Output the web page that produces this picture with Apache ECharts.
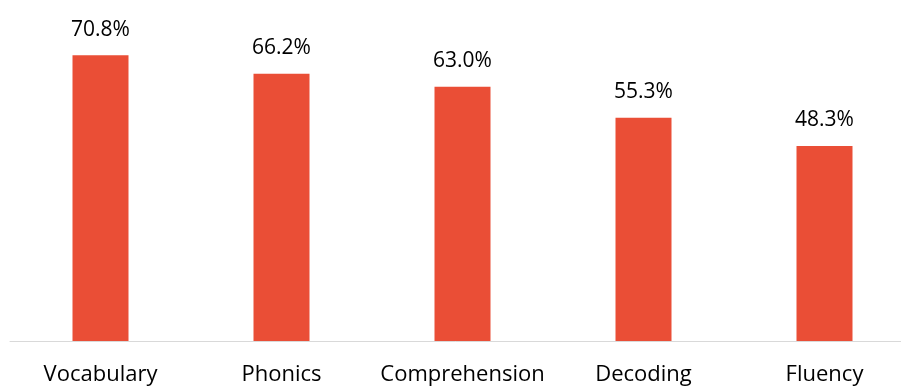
<!DOCTYPE html>
<html>
<head>
<meta charset="utf-8">
<script src="https://cdn.jsdelivr.net/npm/echarts@6/dist/echarts.min.js"></script>
<style>
    html, body { margin: 0; padding: 0; background: #ffffff; }
    #chart { width: 901px; height: 388px; }
</style>
</head>
<body>
<div id="chart"></div>
<script>
const categories = ['Vocabulary', 'Phonics', 'Comprehension', 'Decoding', 'Fluency']
const values = [70.8, 66.2, 63.0, 55.3, 48.3]

const myChart = echarts.init(document.getElementById('chart'), null, { renderer: 'canvas' })
myChart.setOption({
    animation: false,
    backgroundColor: '#ffffff',
    grid: {
        left: 10,
        top: 18,
        width: 905,
        height: 323,
        outerBoundsMode: 'none',
        containLabel: false
    },
    xAxis: {
        type: 'category',
        data: categories,
        axisLine: { lineStyle: { color: '#d9d9d9', width: 1 } },
        axisTick: { show: false },
        axisLabel: {
            interval: 0,
            margin: 23,
            color: '#000000',
            fontSize: 22,
            fontFamily: 'Open Sans'
        }
    },
    yAxis: {
        type: 'value',
        min: 0,
        max: 80,
        show: false,
        splitLine: { show: false }
    },
    series: [{
        type: 'bar',
        data: values,
        barWidth: 56,
        itemStyle: { color: '#ea4e36' },
        label: {
            show: true,
            position: 'top',
            distance: 15,
            color: '#000000',
            fontSize: 21,
            fontFamily: 'Open Sans',
            formatter: p => p.value.toFixed(1) + '%'
        }
    }]
})
</script>
</body>
</html>
